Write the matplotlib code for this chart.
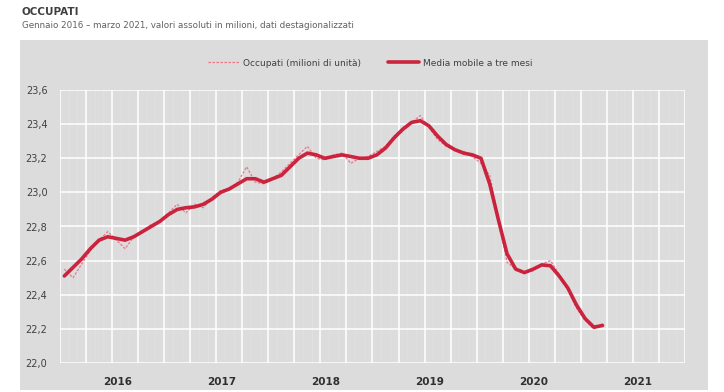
import matplotlib
matplotlib.use("Agg")
import matplotlib.pyplot as plt
from matplotlib.ticker import MultipleLocator, FixedLocator, FuncFormatter

title = "OCCUPATI"
subtitle = "Gennaio 2016 – marzo 2021, valori assoluti in milioni, dati destagionalizzati"
series_raw_label = "Occupati (milioni di unità)"
series_ma_label = "Media mobile a tre mesi"
year_labels = ["2016", "2017", "2018", "2019", "2020", "2021"]

# monthly values Jan 2016 - Mar 2021 (millions)
occupati = [22.55, 22.50, 22.58, 22.66, 22.72, 22.77, 22.72, 22.67, 22.74, 22.77,
            22.81, 22.83, 22.88, 22.93, 22.88, 22.93, 22.91, 22.97, 23.01, 23.02,
            23.06, 23.15, 23.06, 23.05, 23.08, 23.12, 23.17, 23.22, 23.27, 23.20,
            23.19, 23.22, 23.23, 23.17, 23.20, 23.21, 23.24, 23.27, 23.33, 23.38,
            23.41, 23.45, 23.38, 23.31, 23.27, 23.25, 23.24, 23.21, 23.17, 23.10,
            22.85, 22.59, 22.55, 22.53, 22.54, 22.58, 22.60, 22.52, 22.43, 22.32,
            22.25, 22.20, 22.23]
media_mobile = [22.51, 22.56, 22.61, 22.67, 22.72, 22.74, 22.73, 22.72, 22.74, 22.77,
                22.80, 22.83, 22.87, 22.90, 22.91, 22.915, 22.93, 22.96, 23.00, 23.02,
                23.05, 23.08, 23.08, 23.06, 23.08, 23.10, 23.15, 23.20, 23.23, 23.22,
                23.20, 23.21, 23.22, 23.21, 23.20, 23.20, 23.22, 23.26, 23.32, 23.37,
                23.41, 23.42, 23.39, 23.33, 23.28, 23.25, 23.23, 23.22, 23.20, 23.05,
                22.84, 22.64, 22.55, 22.53, 22.55, 22.575, 22.57, 22.51, 22.44, 22.34,
                22.26, 22.21, 22.22]

x = [2016 + (i + 0.5) / 12 for i in range(len(occupati))]

fig = plt.figure(figsize=(7.24, 3.92), dpi=100)
fig.patch.set_facecolor("white")
bg = "#dcdcdc"

# gray panel behind the chart
bgax = fig.add_axes([20 / 724, 2 / 392, 688 / 724, 350 / 392], zorder=-5)
bgax.set_facecolor(bg)
bgax.set_xticks([])
bgax.set_yticks([])
for s in bgax.spines.values():
    s.set_visible(False)

ax = fig.add_axes([60 / 724, 1 - 363 / 392, 625 / 724, 273 / 392], zorder=1)
ax.set_facecolor(bg)
for s in ax.spines.values():
    s.set_visible(False)

ax.set_xlim(2016, 2022)
ax.set_ylim(22.0, 23.6)

ax.xaxis.set_major_locator(FixedLocator([2016.55 + k for k in range(len(year_labels))]))
ax.xaxis.set_major_formatter(FuncFormatter(
    lambda v, p: year_labels[int(v - 2016)] if 0 <= int(v - 2016) < len(year_labels) else ""))
for k in range(0, 73):
    ax.axvline(2016 + k / 12, color="white", lw=0.5, alpha=0.2, zorder=1)
for k in range(0, 25):
    ax.axvline(2016 + k * 0.25, color="white", lw=1.2, alpha=0.9, zorder=1)
ax.yaxis.set_major_locator(MultipleLocator(0.2))
ax.yaxis.set_major_formatter(FuncFormatter(lambda v, p: f"{v:.1f}".replace(".", ",")))
ax.grid(axis="y", color="white", lw=1.2, alpha=0.9, zorder=1)
ax.set_axisbelow(True)

ax.tick_params(axis="both", length=0)
ax.tick_params(axis="y", labelsize=7, labelcolor="#404040", pad=9)
ax.tick_params(axis="x", labelsize=7.5, labelcolor="#303030", pad=10)
for lbl in ax.get_xticklabels():
    lbl.set_fontweight("bold")

ax.plot(x, occupati, color="#e8788a", lw=0.9, ls=(0, (2, 1.2)), zorder=3,
        label=series_raw_label)
ax.plot(x, media_mobile, color="#c8102e", lw=2.6, zorder=4, alpha=0.9,
        solid_capstyle="round", solid_joinstyle="round", label=series_ma_label)

leg = fig.legend(loc="center", bbox_to_anchor=(370 / 724, 1 - 63 / 392), ncol=2,
                 frameon=False, fontsize=6.5, handlelength=3.5, columnspacing=3,
                 handletextpad=0.4)
for t in leg.get_texts():
    t.set_color("#404040")

fig.text(22 / 724, 1 - 12 / 392, title, fontsize=7.5, fontweight="bold",
         color="#404040", va="center", ha="left")
fig.text(22 / 724, 1 - 26 / 392, subtitle, fontsize=6.3, color="#606060",
         va="center", ha="left")

fig.savefig("out.png", dpi=100, facecolor="white")
